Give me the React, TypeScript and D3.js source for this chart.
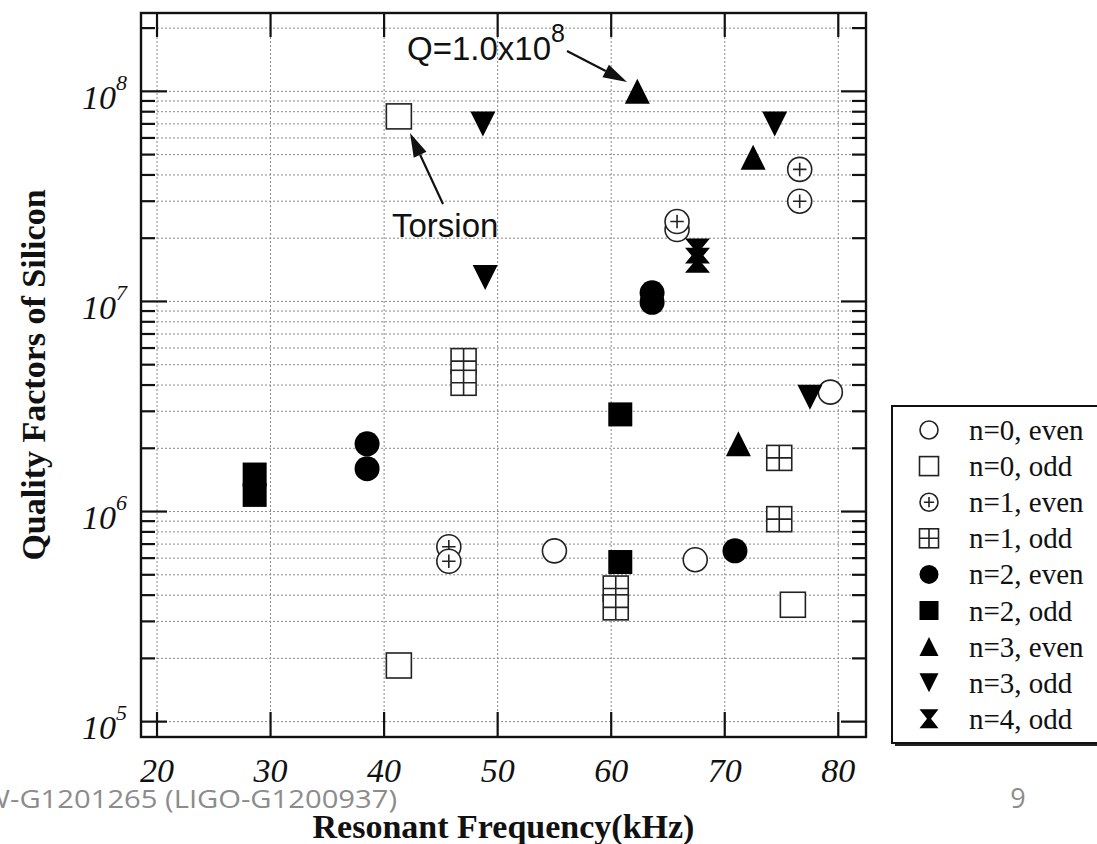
import React from "react";
import * as d3 from "d3";

// ---- data: [frequency kHz, Q] ----
const n0Even: [number, number][] = [[79.3, 3.7e6], [55.0, 6.5e5], [67.4, 5.9e5], [65.8, 2.2e7]];
const n0Odd: [number, number][] = [[41.3, 7.6e7], [41.3, 1.85e5], [76.0, 3.6e5]];
const n1Even: [number, number][] = [[65.8, 2.4e7], [76.6, 4.25e7], [76.6, 3.0e7], [45.7, 6.8e5], [45.7, 5.8e5]];
const n1Odd: [number, number][] = [[47.0, 5.2e6], [47.0, 4.1e6], [74.8, 1.8e6], [74.8, 9.2e5], [60.4, 4.3e5], [60.4, 3.5e5]];
const n2Even: [number, number][] = [[38.5, 2.1e6], [38.5, 1.6e6], [63.6, 1.1e7], [63.6, 9.9e6], [70.9, 6.5e5]];
const n2Odd: [number, number][] = [[28.6, 1.5e6], [28.6, 1.2e6], [60.8, 2.9e6], [60.8, 5.75e5]];
const n3Even: [number, number][] = [[62.3, 1.0e8], [72.5, 4.85e7], [71.2, 2.1e6]];
const n3Odd: [number, number][] = [[48.7, 7.0e7], [74.4, 7.0e7], [48.9, 1.3e7], [77.5, 3.5e6]];
const n4Odd: [number, number][] = [[67.6, 1.74e7], [67.6, 1.57e7]];

const seriesLabels = ["n=0, even", "n=0, odd", "n=1, even", "n=1, odd", "n=2, even", "n=2, odd", "n=3, even", "n=3, odd", "n=4, odd"];
const seriesShapes = ["circle", "square", "circlePlus", "squarePlus", "dot", "box", "up", "down", "hourglass"];
const seriesData = [n0Even, n0Odd, n1Even, n1Odd, n2Even, n2Odd, n3Even, n3Odd, n4Odd];

const xTicks = [20, 30, 40, 50, 60, 70, 80];
const yDecades = [5, 6, 7, 8];

const W = 1097, H = 844;
const L = 141, R = 866, T = 13, B = 737;

function Marker({ shape, cx, cy, s }: { shape: string; cx: number; cy: number; s: number }) {
  const h = s / 2;
  const sw = 1.6;
  const st = "#222";
  switch (shape) {
    case "circle":
      return <circle cx={cx} cy={cy} r={h - 0.5} fill="white" stroke={st} strokeWidth={sw} />;
    case "square":
      return <rect x={cx - h} y={cy - h} width={s} height={s} fill="white" stroke={st} strokeWidth={sw} />;
    case "circlePlus": {
      const a = s * 0.27;
      return (
        <g>
          <circle cx={cx} cy={cy} r={h - 0.5} fill="white" stroke={st} strokeWidth={sw} />
          <path d={`M${cx - a},${cy}H${cx + a}M${cx},${cy - a}V${cy + a}`} stroke={st} strokeWidth={sw} />
        </g>
      );
    }
    case "squarePlus":
      return (
        <g>
          <rect x={cx - h} y={cy - h} width={s} height={s} fill="white" stroke={st} strokeWidth={sw} />
          <path d={`M${cx - h},${cy}H${cx + h}M${cx},${cy - h}V${cy + h}`} stroke={st} strokeWidth={sw} />
        </g>
      );
    case "dot":
      return <circle cx={cx} cy={cy} r={h} fill="#000" />;
    case "box":
      return <rect x={cx - h} y={cy - h} width={s} height={s} fill="#000" />;
    case "up":
      return <path d={`M${cx},${cy - h}L${cx + h},${cy + h}L${cx - h},${cy + h}Z`} fill="#000" />;
    case "down":
      return <path d={`M${cx - h},${cy - h}L${cx + h},${cy - h}L${cx},${cy + h}Z`} fill="#000" />;
    case "hourglass":
      return (
        <path
          d={`M${cx - h},${cy - h}L${cx + h},${cy - h}L${cx + 2},${cy}L${cx + h},${cy + h}L${cx - h},${cy + h}L${cx - 2},${cy}Z`}
          fill="#000"
        />
      );
  }
  return null;
}

function Arrow({ x1, y1, x2, y2 }: { x1: number; y1: number; x2: number; y2: number }) {
  const ang = Math.atan2(y2 - y1, x2 - x1);
  const len = 24, wid = 7;
  const bx = x2 - len * Math.cos(ang), by = y2 - len * Math.sin(ang);
  const px = -Math.sin(ang) * wid, py = Math.cos(ang) * wid;
  return (
    <g>
      <line x1={x1} y1={y1} x2={bx} y2={by} stroke="#111" strokeWidth={2.2} />
      <path d={`M${x2},${y2}L${bx + px},${by + py}L${bx - px},${by - py}Z`} fill="#111" />
    </g>
  );
}

export default function App() {
  const x = d3.scaleLinear().domain([18.59, 82.44]).range([L, R]);
  const y = d3.scaleLog().domain([8.45e4, 2.36e8]).range([B, T]);

  const yGrid: { v: number; major: boolean }[] = [];
  for (let e = 5; e <= 8; e++) {
    for (let k = 1; k <= 9; k++) {
      const v = k * Math.pow(10, e);
      if (v >= 8.45e4 && v <= 2.36e8) yGrid.push({ v, major: k === 1 });
    }
  }

  const serif = "'Liberation Serif', 'Times New Roman', serif";
  const sans = "'Liberation Sans', Arial, sans-serif";

  const legX = 892, legY = 406, legW = 230, legH = 337;
  const rowY0 = 430, rowDy = 36.1;

  return (
    <svg width={W} height={H} style={{ position: "absolute", left: 0, top: 0, background: "white" }}>
      <rect x={0} y={0} width={W} height={H} fill="white" />
      {/* grid */}
      <g stroke="#8a8a8a" strokeWidth={1} strokeDasharray="2,2">
        {xTicks.map((t) => (
          <line key={"gx" + t} x1={x(t)} x2={x(t)} y1={T} y2={B} />
        ))}
        {yGrid.map((g) => (
          <line key={"gy" + g.v} x1={L} x2={R} y1={y(g.v)} y2={y(g.v)} />
        ))}
      </g>
      {/* markers */}
      {seriesData.map((data, i) => (
        <g key={"s" + i}>
          {data.map((d, j) => (
            <Marker key={j} shape={seriesShapes[i]} cx={x(d[0])} cy={y(d[1])} s={i === 5 ? 24 : 25} />
          ))}
        </g>
      ))}
      {/* ticks */}
      <g stroke="#111" strokeWidth={2.2}>
        {xTicks.map((t) => (
          <g key={"tx" + t}>
            <line x1={x(t)} x2={x(t)} y1={T} y2={T + 24} />
            <line x1={x(t)} x2={x(t)} y1={B} y2={B - 25} />
          </g>
        ))}
        {yGrid.map((g) => (
          <g key={"ty" + g.v}>
            <line x1={L} x2={L + (g.major ? 26 : 14)} y1={y(g.v)} y2={y(g.v)} />
            <line x1={R} x2={R - (g.major ? 25 : 14)} y1={y(g.v)} y2={y(g.v)} />
          </g>
        ))}
      </g>
      {/* frame */}
      <rect x={L} y={T} width={R - L} height={B - T} fill="none" stroke="#111" strokeWidth={2.4} />
      {/* x tick labels */}
      {xTicks.map((t) => (
        <text key={"lx" + t} x={x(t)} y={782} textAnchor="middle" fontFamily={serif} fontStyle="italic" fontSize={34} fill="#111">
          {t}
        </text>
      ))}
      {/* y tick labels */}
      {yDecades.map((e) => (
        <text key={"ly" + e} x={82} y={y(Math.pow(10, e)) + 17.5} fontFamily={serif} fontStyle="italic" fontSize={34} fill="#111">
          10
          <tspan dy={-19} fontSize={22}>
            {e}
          </tspan>
        </text>
      ))}
      {/* axis titles */}
      <text x={(L + R) / 2} y={838} textAnchor="middle" fontFamily={serif} fontWeight="bold" fontSize={34} fill="#111">
        Resonant Frequency(kHz)
      </text>
      <text
        transform={`translate(45,${(T + B) / 2}) rotate(-90)`}
        textAnchor="middle"
        fontFamily={serif}
        fontWeight="bold"
        fontSize={34}
        fill="#111"
      >
        Quality Factors of Silicon
      </text>
      {/* annotations */}
      <text x={407} y={60} fontFamily={sans} fontSize={33} fill="#111">
        Q=1.0x10
        <tspan dy={-18} fontSize={25}>
          8
        </tspan>
      </text>
      <Arrow x1={567} y1={51} x2={627} y2={82} />
      <text x={392} y={236.5} fontFamily={sans} fontSize={33} fill="#111">
        Torsion
      </text>
      <Arrow x1={443} y1={204} x2={410} y2={133} />
      {/* legend */}
      <rect x={legX + 3} y={legY + 3} width={legW} height={legH} fill="#222" />
      <rect x={legX} y={legY} width={legW} height={legH} fill="white" stroke="#111" strokeWidth={2} />
      {seriesLabels.map((lab, i) => (
        <g key={"leg" + i}>
          <Marker shape={seriesShapes[i]} cx={929} cy={rowY0 + i * rowDy} s={19} />
          <text x={969} y={rowY0 + i * rowDy + 10} fontFamily={serif} fontSize={29} fill="#111">
            {lab}
          </text>
        </g>
      ))}
      {/* slide footer */}
      <text
        x={-46}
        y={808}
        fontFamily="'Open Sans', sans-serif"
        fontSize={26}
        textLength={443}
        lengthAdjust="spacingAndGlyphs"
        fill="#8c8c8c"
      >
        JGW-G1201265 (LIGO-G1200937)
      </text>
      <text x={1018} y={808} textAnchor="middle" fontFamily="'Open Sans', sans-serif" fontSize={27} fill="#8c8c8c">
        9
      </text>
    </svg>
  );
}
